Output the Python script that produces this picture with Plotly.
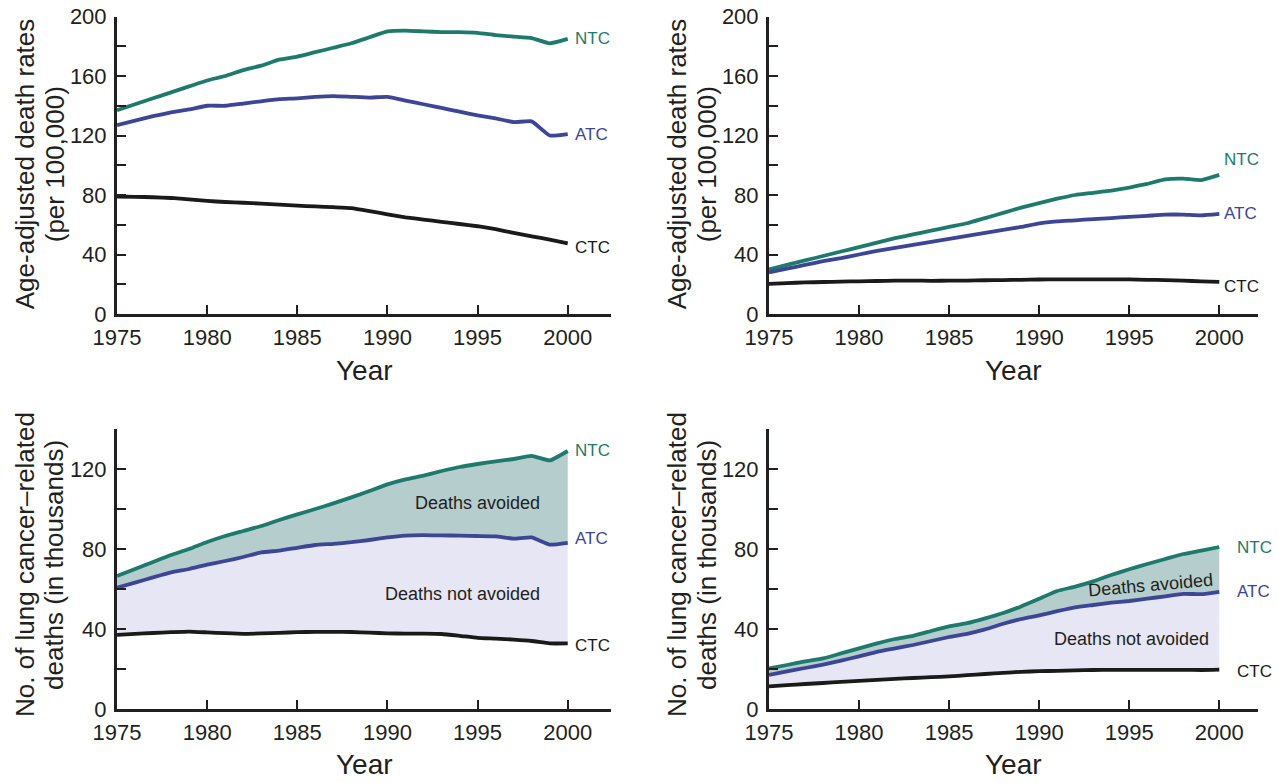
import plotly.graph_objects as go

# ---- data -------------------------------------------------------------
years = list(range(1975, 2001))

# Age-adjusted death rates per 100,000 (men, left; women, right)
rate_men_ntc = [137, 141, 145, 149, 153, 157, 160, 164, 167, 171, 173, 176, 179,
                182, 186, 190, 190.5, 190, 189.5, 189.5, 189, 187.5, 186.5, 185.5, 182, 185]
rate_men_atc = [127, 130, 133, 135.5, 137.5, 140, 140, 141.5, 143, 144.5, 145, 146, 146.5,
                146, 145.5, 146, 143.5, 141, 138.5, 136, 133.5, 131.5, 129, 129.5, 120, 121]
rate_men_ctc = [79, 78.8, 78.5, 78, 77, 76, 75.3, 74.8, 74.2, 73.5, 72.8, 72.3, 71.8,
                71.2, 69.2, 67, 65, 63.5, 62, 60.5, 59, 57, 54.5, 52.2, 50, 47.5]

rate_women_ntc = [30, 33, 36, 39, 42, 45, 48, 51, 53.5, 56, 58.5, 61, 64.5,
                  68, 71.5, 74.5, 77.5, 80, 81.5, 83, 85, 87.5, 90.5, 91, 90, 93.5]
rate_women_atc = [28, 30.5, 33, 35.5, 37.5, 40, 42.5, 44.5, 46.5, 48.5, 50.5, 52.5, 54.5,
                  56.5, 58.5, 61, 62.3, 63, 63.8, 64.5, 65.3, 66, 66.8, 66.8, 66.3, 67.3]
rate_women_ctc = [20.3, 20.8, 21.2, 21.5, 21.8, 22, 22.2, 22.4, 22.5, 22.3, 22.4, 22.5, 22.7,
                  22.8, 23, 23.2, 23.3, 23.3, 23.3, 23.3, 23.3, 23, 22.8, 22.4, 22, 21.6]

# Lung cancer-related deaths, thousands
deaths_men_ntc = [66.5, 70, 73.5, 77, 80, 83.5, 86.5, 89, 91.5, 94.5, 97.3, 100, 102.8,
                  105.8, 109, 112.3, 114.8, 116.7, 119, 121, 122.5, 123.8, 125, 126.6, 124.3, 129]
deaths_men_atc = [60.7, 63.2, 65.8, 68.3, 70, 72.2, 74, 76, 78.3, 79.2, 80.6, 82, 82.6,
                  83.4, 84.5, 85.8, 86.7, 86.9, 86.8, 86.7, 86.5, 86.3, 85.2, 85.8, 82.2, 83.1]
deaths_men_ctc = [37.1, 37.6, 38, 38.4, 38.7, 38.3, 37.9, 37.6, 37.8, 38.1, 38.4, 38.6, 38.6,
                  38.5, 38.2, 37.8, 37.7, 37.7, 37.5, 36.6, 35.6, 35.2, 34.7, 34, 32.8, 32.8]

deaths_women_ntc = [20.3, 22, 23.8, 25.3, 27.8, 30.3, 32.8, 35, 36.6, 39, 41.3, 42.9, 45.3,
                    48, 51.3, 55.1, 59, 61.2, 63.8, 67, 69.9, 72.5, 75, 77.5, 79.2, 81]
deaths_women_atc = [17, 18.8, 20.5, 22.2, 24.2, 26.3, 28.6, 30.3, 32, 34, 36, 37.6, 39.8,
                    42.6, 45, 46.8, 48.9, 50.8, 52, 53.2, 54, 55.2, 56.3, 57.6, 57.4, 58.6]
deaths_women_ctc = [11.3, 11.9, 12.5, 13, 13.6, 14.1, 14.6, 15.1, 15.5, 15.9, 16.3, 16.9, 17.5,
                    18.1, 18.6, 18.9, 19.1, 19.3, 19.5, 19.6, 19.6, 19.6, 19.6, 19.6, 19.5, 19.7]

series_names = ["NTC", "ATC", "CTC"]
x_ticks = [1975, 1980, 1985, 1990, 1995, 2000]

# ---- styling ----------------------------------------------------------
W, H = 1278, 783
FONT = "Liberation Sans, Arial, Helvetica, sans-serif"
INK = "#231f20"
COLORS = {"NTC": "#1e7a6c", "ATC": "#3c4596", "CTC": "#1a1a1a"}
FILL_AVOIDED = "#b6cdcd"
FILL_NOT_AVOIDED = "#e6e6f4"


def px_x(p):
    return p / W


def px_y(p):
    return 1 - p / H


# pixel boxes of the four plotting areas: (left, right, top, bottom)
boxes = {
    1: (117, 611, 16.5, 314),
    2: (769, 1258, 16.5, 314),
    3: (117, 611, 429, 709),
    4: (769, 1258, 429, 709),
}
x_ranges = {1: [1975, 2002.4], 2: [1975, 2002.15], 3: [1975, 2002.4], 4: [1975, 2002.15]}
y_ranges = {1: [0, 200], 2: [0, 200], 3: [0, 140], 4: [0, 140]}

panels = {
    1: (rate_men_ntc, rate_men_atc, rate_men_ctc),
    2: (rate_women_ntc, rate_women_atc, rate_women_ctc),
    3: (deaths_men_ntc, deaths_men_atc, deaths_men_ctc),
    4: (deaths_women_ntc, deaths_women_atc, deaths_women_ctc),
}

fig = go.Figure()

for k, (ntc, atc, ctc) in panels.items():
    xa = "x" if k == 1 else f"x{k}"
    ya = "y" if k == 1 else f"y{k}"
    if k in (3, 4):
        # shaded bands: CTC..ATC (deaths not avoided), ATC..NTC (deaths avoided)
        fig.add_trace(go.Scatter(x=years, y=ctc, mode="lines", line=dict(width=0),
                                 hoverinfo="skip", showlegend=False, xaxis=xa, yaxis=ya))
        fig.add_trace(go.Scatter(x=years, y=atc, mode="lines", line=dict(width=0),
                                 fill="tonexty", fillcolor=FILL_NOT_AVOIDED,
                                 hoverinfo="skip", showlegend=False, xaxis=xa, yaxis=ya))
        fig.add_trace(go.Scatter(x=years, y=ntc, mode="lines", line=dict(width=0),
                                 fill="tonexty", fillcolor=FILL_AVOIDED,
                                 hoverinfo="skip", showlegend=False, xaxis=xa, yaxis=ya))
    for name, vals in zip(series_names, (ntc, atc, ctc)):
        fig.add_trace(go.Scatter(x=years, y=vals, mode="lines", name=name,
                                 line=dict(color=COLORS[name], width=3.8, shape="spline",
                                           smoothing=0.4),
                                 showlegend=False, xaxis=xa, yaxis=ya))

layout = dict(
    template="none",
    width=W, height=H,
    margin=dict(l=0, r=0, t=0, b=0, autoexpand=False),
    paper_bgcolor="white", plot_bgcolor="white",
    font=dict(family=FONT, color=INK, size=22),
    showlegend=False,
)

for k, (l, r, t, b) in boxes.items():
    xkey = "xaxis" if k == 1 else f"xaxis{k}"
    ykey = "yaxis" if k == 1 else f"yaxis{k}"
    xa = "x" if k == 1 else f"x{k}"
    ya = "y" if k == 1 else f"y{k}"
    layout[xkey] = dict(
        domain=[px_x(l), px_x(r)], range=x_ranges[k], anchor=ya, automargin=False,
        tickmode="array", tickvals=x_ticks, ticks="inside", ticklen=9, tickwidth=2,
        tickcolor=INK, showline=True, linewidth=3, linecolor=INK,
        showgrid=False, zeroline=False, ticklabelstandoff=2,
        tickfont=dict(size=22, family=FONT, color=INK),
    )
    layout[ykey] = dict(
        domain=[px_y(b), px_y(t)], range=y_ranges[k], anchor=xa, automargin=False,
        tickmode="linear", tick0=0, dtick=40, ticks="inside", ticklen=9, tickwidth=2,
        tickcolor=INK, showline=True, linewidth=3, linecolor=INK,
        minor=dict(dtick=20, ticks="inside", ticklen=9, tickwidth=2, tickcolor=INK,
                   showgrid=False),
        showgrid=False, zeroline=False, ticklabelstandoff=3,
        tickfont=dict(size=22, family=FONT, color=INK),
    )

fig.update_layout(**layout)

annotations = []

# axis titles
y_titles = {
    1: ("Age-adjusted death rates", "(per 100,000)"),
    2: ("Age-adjusted death rates", "(per 100,000)"),
    3: ("No. of lung cancer\u2013related", "deaths (in thousands)"),
    4: ("No. of lung cancer\u2013related", "deaths (in thousands)"),
}
title_x = {1: (25, 55), 2: (677, 707), 3: (25, 54), 4: (677, 707)}
year_gap = {1: 56, 2: 56, 3: 55, 4: 55}
for k, (l, r, t, b) in boxes.items():
    cy = (t + b) / 2 + (-1 if k in (1, 2) else -4)
    for line, xpix in zip(y_titles[k], title_x[k]):
        annotations.append(dict(
            text=line, xref="paper", yref="paper", x=px_x(xpix), y=px_y(cy),
            xanchor="center", yanchor="middle", textangle=-90, showarrow=False,
            font=dict(size=26, family=FONT, color=INK)))
    annotations.append(dict(
        text="Year", xref="paper", yref="paper", x=px_x((l + r) / 2),
        y=px_y(b + year_gap[k]), xanchor="center", yanchor="middle", showarrow=False,
        font=dict(size=28, family=FONT, color=INK)))

# series labels at the line ends
label_shift = {
    1: {"NTC": 0, "ATC": 0, "CTC": -4},
    2: {"NTC": 15, "ATC": 0, "CTC": -5},
    3: {"NTC": 0, "ATC": 4, "CTC": -2},
    4: {"NTC": 0, "ATC": 0, "CTC": -2},
}
label_xshift = {1: 5, 2: 3, 3: 5, 4: 16}
for k, vals in panels.items():
    xa = "x" if k == 1 else f"x{k}"
    ya = "y" if k == 1 else f"y{k}"
    for name, v in zip(series_names, vals):
        annotations.append(dict(
            text=name, xref=xa, yref=ya, x=years[-1], y=v[-1], xanchor="left",
            yanchor="middle", xshift=label_xshift[k], yshift=label_shift[k][name],
            showarrow=False, font=dict(size=17, family=FONT, color=COLORS[name])))

# band labels
annotations += [
    dict(text="Deaths avoided", xref="x3", yref="y3", x=1998.6, y=103, xanchor="right",
         yanchor="middle", showarrow=False, font=dict(size=18, family=FONT, color=INK)),
    dict(text="Deaths not avoided", xref="x3", yref="y3", x=1998.6, y=57.5, xanchor="right",
         yanchor="middle", showarrow=False, font=dict(size=18, family=FONT, color=INK)),
    dict(text="Deaths avoided", xref="x4", yref="y4", x=1996.2, y=62, xanchor="center",
         yanchor="middle", textangle=-5, showarrow=False,
         font=dict(size=18, family=FONT, color=INK)),
    dict(text="Deaths not avoided", xref="x4", yref="y4", x=1995.1, y=35, xanchor="center",
         yanchor="middle", showarrow=False, font=dict(size=18, family=FONT, color=INK)),
]

fig.update_layout(annotations=annotations)
fig.write_html("out.html")
